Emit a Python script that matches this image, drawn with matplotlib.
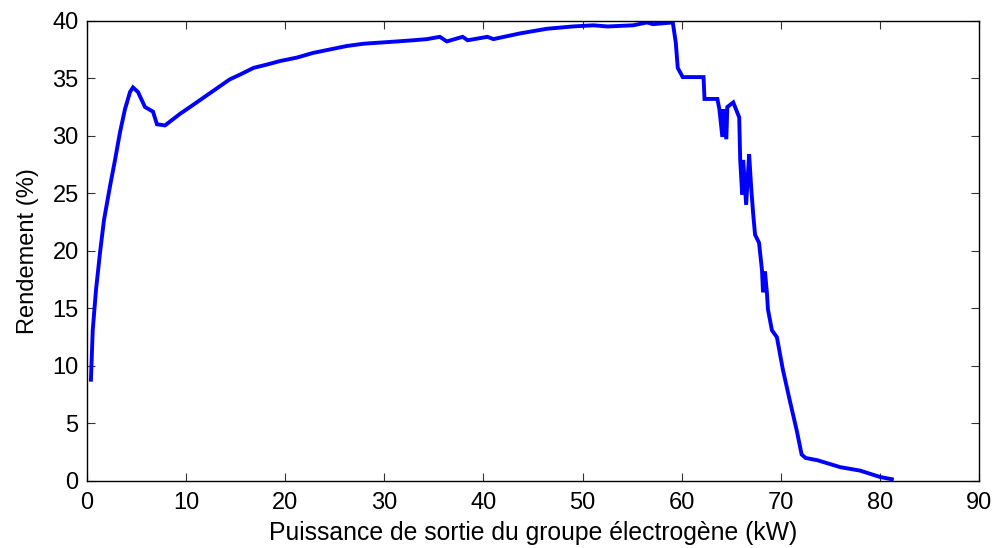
import matplotlib
matplotlib.use("Agg")
import matplotlib.pyplot as plt

# Output power of the generator set (kW) and efficiency (%)
power_kw = [
    0.4, 0.58, 0.91, 1.31, 1.72, 2.32, 2.83, 3.33, 3.83, 4.34, 4.64, 5.15, 5.85,
    6.66, 7.06, 7.87, 9.38, 10.9, 12.4, 13.4, 14.4, 15.4, 16.8, 18.2, 19.5, 21.2,
    22.8, 24.5, 26.2, 27.9, 29.6, 31.3, 32.9,
    34.3, 35.6, 36.3, 37.9, 38.4, 40.4, 41.0, 43.7, 46.4, 49.0, 51.1, 52.5, 55.1,
    56.5, 57.1, 59.1, 59.4, 59.6, 60.1, 62.2, 62.3, 63.6, 63.8, 64.1, 64.2, 64.5,
    64.6, 65.2, 65.8, 65.9, 66.1, 66.2, 66.5, 66.8, 67.0, 67.2, 67.4, 67.8, 68.1,
    68.2, 68.4, 68.6, 68.7, 69.1, 69.6, 70.2, 70.9, 71.6, 72.1, 72.5, 73.7, 76.0,
    78.0, 80.0, 81.2,
]
rendement = [
    8.8, 13.1, 16.6, 19.8, 22.7, 25.6, 27.9, 30.3, 32.3, 33.8, 34.2, 33.8, 32.5,
    32.1, 31.0, 30.9, 31.9, 32.8, 33.7, 34.3, 34.9, 35.3, 35.9, 36.2, 36.5, 36.8,
    37.2, 37.5, 37.8, 38.0, 38.1, 38.2, 38.3,
    38.4, 38.6, 38.2, 38.6, 38.3, 38.6, 38.4, 38.9, 39.3, 39.5, 39.6, 39.5, 39.6,
    39.85, 39.7, 39.85, 38.1, 35.9, 35.1, 35.1, 33.2, 33.2, 32.3, 29.9, 32.3, 29.7,
    32.5, 32.9, 31.6, 27.9, 24.9, 27.9, 24.0, 28.4, 25.6, 23.3, 21.4, 20.7, 18.3,
    16.4, 18.2, 16.3, 14.9, 13.1, 12.5, 9.7, 7.0, 4.4, 2.3, 2.0, 1.8, 1.2,
    0.9, 0.35, 0.15,
]

x_ticks = list(range(0, 91, 10))
y_ticks = list(range(0, 41, 5))

plt.rcParams["font.family"] = ["Liberation Sans", "DejaVu Sans"]
plt.rcParams["font.size"] = 17

fig = plt.figure(figsize=(9.94, 5.48), dpi=100)
ax = fig.add_axes([0.0875, 0.1223, 0.8975, 0.8399])

ax.plot(power_kw, rendement, color="#0000ff", linewidth=2.8, solid_joinstyle="miter")

ax.set_xlim(0, 90)
ax.set_ylim(0, 40)
ax.set_xticks(x_ticks)
ax.set_yticks(y_ticks)
ax.tick_params(direction="in", length=6, width=0.8, top=True, right=True,
               color="#333333", labelsize=17)
ax.tick_params(axis="x", pad=8)
ax.tick_params(axis="y", pad=6)
for s in ax.spines.values():
    s.set_linewidth(1.0)
    s.set_color("black")

ax.set_xlabel("Puissance de sortie du groupe électrogène (kW)", fontsize=17.8, labelpad=5)
ax.set_ylabel("Rendement (%)", fontsize=17, labelpad=10)

fig.savefig("out.png", dpi=100)
